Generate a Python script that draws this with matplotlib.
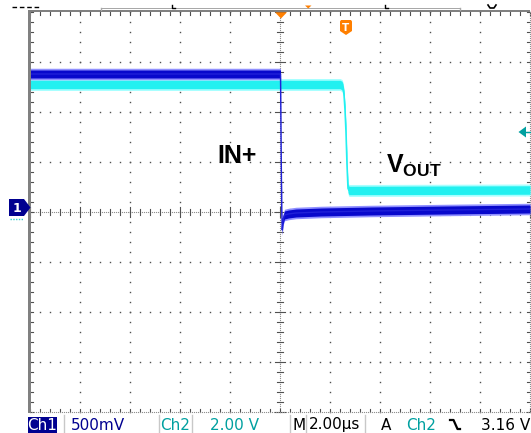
import numpy as np
import matplotlib
matplotlib.use('Agg')
import matplotlib.pyplot as plt
from matplotlib.patches import Polygon, Rectangle

# ---------------- data ----------------
# time relative to trigger (us), voltages in V
ch1_t_us = [-12.64, -2.62, -2.60, -2.57, -2.55, -2.52, -2.46, -2.30, -2.00, -1.00, 1.00, 4.00, 7.36]
ch1_v    = [1.38, 1.38, 0.80, 0.00, -0.18, -0.08, -0.03, -0.02, -0.01, 0.00, 0.01, 0.02, 0.03]
ch2_t_us = [-12.64, -0.24, -0.16, -0.12, -0.08, -0.04, 0.00, 0.04, 0.08, 0.12, 7.36]
ch2_v    = [5.10, 5.10, 5.06, 4.96, 4.70, 4.10, 3.20, 1.90, 0.95, 0.86, 0.88]

ch1_scale = 0.5      # V/div
ch2_scale = 2.0      # V/div
time_scale = 2.0     # us/div
t_center = -2.64     # us at screen centre
trig_level = 3.16    # V

status_labels = ["Ch1", "500mV", "Ch2", "2.00 V", "M", "2.00µs", "A", "Ch2", "3.16 V"]
trace_labels = ["IN+", r"$\mathbf{V}_{\mathbf{OUT}}$"]

plt.rcParams['mathtext.fontset'] = 'custom'
plt.rcParams['mathtext.bf'] = 'Liberation Sans:bold'
plt.rcParams['mathtext.rm'] = 'Liberation Sans'

W, H = 531, 433
fig = plt.figure(figsize=(W / 100, H / 100), dpi=100)
fig.patch.set_facecolor('white')

# main graticule axes: 10 x 8 divisions
ax = fig.add_axes([30 / W, (H - 412) / H, 500 / W, 400 / H])
ax.set_xlim(t_center - 5 * time_scale, t_center + 5 * time_scale)
ax.set_ylim(-4, 4)
ax.axis('off')

def tx(d):
    return t_center + d * time_scale

dot = dict(ls='none', marker='s', markersize=1.0, markeredgewidth=0, color='#505050', clip_on=False)
# dotted grid lines
for k in [-3, -2, -1, 1, 2, 3]:
    xs = np.arange(-5, 5.001, 0.2)
    ax.plot(tx(xs), np.full_like(xs, k), **dot)
for k in [-4, -3, -2, -1, 1, 2, 3, 4]:
    ys = np.arange(-4, 4.001, 0.2)
    ax.plot(np.full_like(ys, tx(k)), ys, **dot)

# centre cross with ticks
fine = dict(ls='none', marker='s', markersize=0.8, markeredgewidth=0, color='#909090', clip_on=False)
xs = np.arange(-5, 5.001, 0.04)
ax.plot(tx(xs), np.zeros_like(xs), **fine)
ys = np.arange(-4, 4.001, 0.04)
ax.plot(np.full_like(ys, tx(0)), ys, **fine)
for d in np.arange(-5, 5.001, 0.2):
    h = 0.1 if abs(d - round(d)) < 1e-6 else 0.06
    ax.plot([tx(d), tx(d)], [-h, h], color='#505050', lw=0.8, clip_on=False)
    ax.plot([tx(d), tx(d)], [-4, -4 + 0.06], color='#505050', lw=0.8, clip_on=False)
    ax.plot([tx(d), tx(d)], [4, 4 - 0.06], color='#505050', lw=0.8, clip_on=False)
for d in np.arange(-4, 4.001, 0.2):
    h = 0.1 if abs(d - round(d)) < 1e-6 else 0.06
    ax.plot([tx(-h), tx(h)], [d, d], color='#505050', lw=0.8, clip_on=False)
    ax.plot([tx(5), tx(5 - 0.06)], [d, d], color='#505050', lw=0.8, clip_on=False)
    ax.plot([tx(-5), tx(-5 + 0.06)], [d, d], color='#505050', lw=0.8, clip_on=False)
# bottom and right frame (dotted)
ax.plot(tx(xs), np.full_like(xs, -4), **fine)
ax.plot(np.full_like(ys, tx(5)), ys, **fine)

# traces
c1 = np.array(ch1_v) / ch1_scale
c2 = np.array(ch2_v) / ch2_scale
t1 = np.array(ch1_t_us)
t2 = np.array(ch2_t_us)

ax.fill_between(t2, c2 - 0.12, c2 + 0.12, color='#a8ffff', lw=0, zorder=3)
ax.fill_between(t2, c2 - 0.085, c2 + 0.085, color='#22f0f0', lw=0, zorder=3)
ax.plot(t2, c2, color='#22f0f0', lw=1.2, zorder=3)

ax.fill_between(t1, c1 - 0.115, c1 + 0.115, color='#9090ff', lw=0, zorder=4)
ax.fill_between(t1, c1 - 0.08, c1 + 0.08, color='#0808cc', lw=0, zorder=4)
ax.plot(t1, c1, color='#2020d8', lw=1.0, zorder=4)

# ---------------- overlay in pixel coordinates ----------------
ov = fig.add_axes([0, 0, 1, 1])
ov.set_xlim(0, W)
ov.set_ylim(H, 0)
ov.axis('off')

# left / top thick frame
ov.add_patch(Rectangle((28, 10), 2.6, 403, color='#808080', lw=0))
ov.add_patch(Rectangle((28, 10), 502, 2.4, color='#808080', lw=0))

# top record bar and marks
ov.add_patch(Rectangle((101, 7.5), 359, 1.8, color='#a8a8a8', lw=0))
ov.plot([101, 101], [7.5, 10], color='#a8a8a8', lw=1)
ov.plot([459.5, 459.5], [7.5, 10], color='#a8a8a8', lw=1)
ov.plot([12, 40], [7, 7], color='black', lw=1, dashes=(3.3, 2.0))
for x0 in (172, 385):
    ov.plot([x0, x0, x0 + 3], [5, 8, 8], color='black', lw=1)
ov.add_patch(Polygon([[305, 5.5], [311.5, 5.5], [308.2, 8.5]], color='#ff7f00', lw=0))
ov.plot([488, 490, 494, 496], [5, 8, 8, 5], color='black', lw=1.2)

# trigger position triangle and T marker
ov.add_patch(Polygon([[275, 12.3], [287, 12.3], [281, 18.5]], color='#ff7f00', lw=0))
ov.add_patch(Polygon([[340, 21.5], [341, 20], [351, 20], [352, 21.5], [352, 31], [346, 35], [340, 31]],
                     color='#ff7f00', lw=0))
ov.text(346, 28, "T", color='white', fontsize=7.5, fontweight='bold', ha='center', va='center',
        family='DejaVu Sans')

# ch1 ground marker
ov.add_patch(Polygon([[9, 199], [24, 199], [30.5, 207.5], [24, 216], [9, 216]], color='#000090', lw=0))
ov.text(17, 208, "1", color='white', fontsize=9, fontweight='bold', ha='center', va='center',
        family='DejaVu Sans')
ov.plot([10, 23], [218.5, 218.5], color='#30d0d0', lw=1, dashes=(1, 1))

# trigger level arrow (ch2)
ov.add_patch(Polygon([[518.5, 132], [526, 126.5], [526, 137.5]], color='#00a0a0', lw=0))
ov.plot([526, 530], [132, 132], color='#00a0a0', lw=1)

# trace labels
ov.text(217, 163, trace_labels[0], fontsize=18, fontweight='bold', family='Liberation Sans',
        ha='left', va='baseline', color='black')
ov.text(386, 173, trace_labels[1], fontsize=18, ha='left', va='baseline', color='black')

# status bar
navy = '#000090'
teal = '#00a0a0'
ov.add_patch(Rectangle((28, 417), 28.5, 16, color=navy, lw=0))
for xs_ in (64, 159, 192, 290, 306, 365):
    ov.plot([xs_, xs_], [415, 433], color='#c8c8c8', lw=1)
st = dict(fontsize=11, family='DejaVu Sans', va='baseline')
yb = 429.5
ov.text(42, yb, status_labels[0], color='white', ha='center', **st)
ov.text(98, yb, status_labels[1], color=navy, ha='center', **st)
ov.text(160, yb, status_labels[2], color=teal, ha='left', **st)
ov.text(210, yb, status_labels[3], color=teal, ha='left', **st)
ov.text(292, yb, status_labels[4], color='black', ha='left', **st)
ov.text(309, yb, status_labels[5], color='black', ha='left', **st)
ov.text(381, yb, status_labels[6], color='black', ha='left', **st)
ov.text(406, yb, status_labels[7], color=teal, ha='left', **st)
ov.plot([450, 453.5, 457.5, 460], [420, 420, 429, 429], color='black', lw=1.6)
ov.text(481, yb, status_labels[8], color='black', ha='left', **st)

fig.savefig('out.png', dpi=100, facecolor='white')
